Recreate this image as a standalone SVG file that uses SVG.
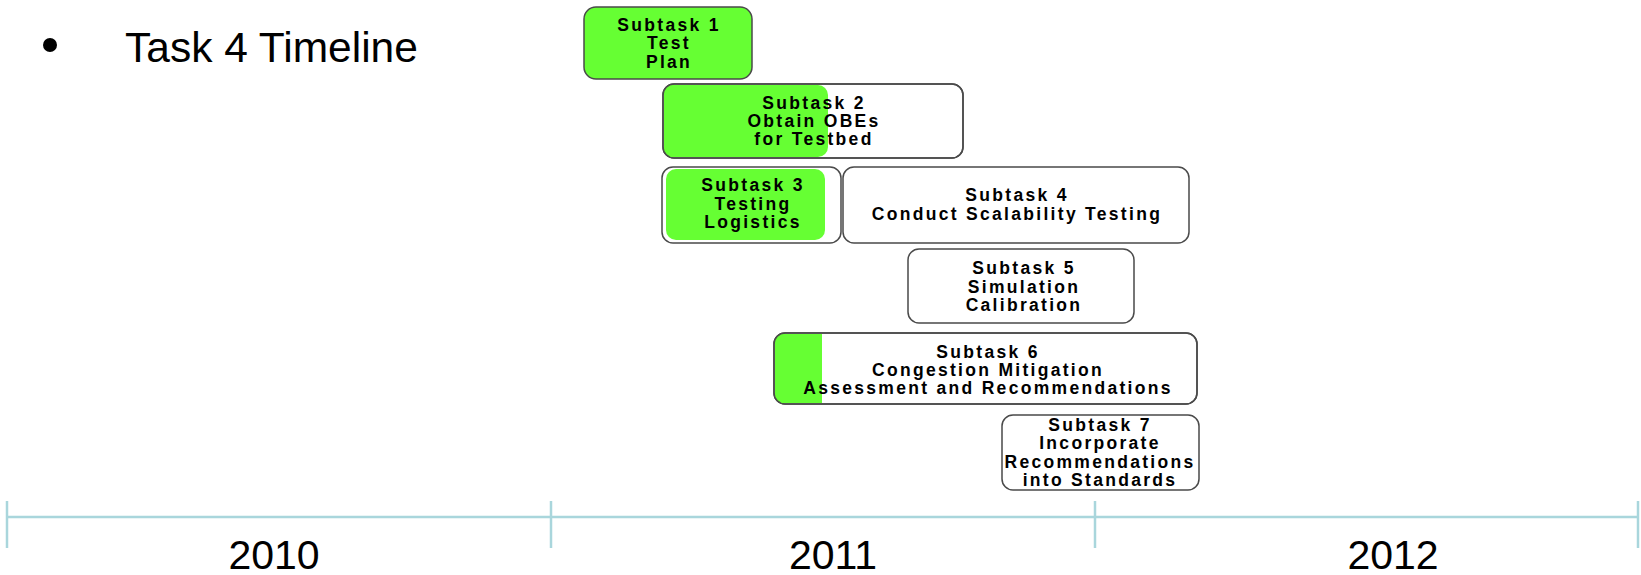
<svg xmlns="http://www.w3.org/2000/svg" width="1641" height="575" viewBox="0 0 1641 575">
<style>
.box{fill:#ffffff;stroke:#4a4a4a;stroke-width:1.5}
.green{fill:#66ff33}
.lbl{font-family:"Liberation Sans",Arial,sans-serif;font-weight:bold;font-size:17.5px;letter-spacing:2.3px;fill:#000;text-anchor:middle}
.axis{stroke:#a9d6dc;stroke-width:2.5;fill:none}
.year{font-family:"Liberation Sans",Arial,sans-serif;font-size:41px;fill:#000;text-anchor:middle}
</style>
<defs>
<clipPath id="c2"><rect x="663" y="84" width="300" height="74" rx="11"/></clipPath>
<clipPath id="c6"><rect x="774" y="333" width="423" height="71" rx="11"/></clipPath>
</defs>
<rect width="1641" height="575" fill="#ffffff"/>
<g id="title">
<circle cx="50" cy="45" r="7" fill="#000"/>
<text x="125" y="62" font-family="'Liberation Sans',Arial,sans-serif" font-size="42.5" fill="#000">Task 4 Timeline</text>
</g>
<g id="timeline">
<line class="axis" x1="7" y1="517" x2="1638" y2="517"/>
<line class="axis" x1="7" y1="501" x2="7" y2="548"/>
<line class="axis" x1="551" y1="501" x2="551" y2="548"/>
<line class="axis" x1="1095" y1="501" x2="1095" y2="548"/>
<line class="axis" x1="1638" y1="501" x2="1638" y2="548"/>
<text class="year" x="274" y="569">2010</text>
<text class="year" x="833" y="569">2011</text>
<text class="year" x="1393" y="569">2012</text>
</g>
<g id="connectors"></g>
<g id="subtask1">
<rect x="584" y="7" width="168" height="72" rx="12" fill="#66ff33" stroke="#4a4a4a" stroke-width="1.5"/>
<text class="lbl" x="669" y="30.5">Subtask 1</text>
<text class="lbl" x="669" y="49">Test</text>
<text class="lbl" x="669" y="67.5">Plan</text>
</g>
<g id="subtask2">
<rect class="box" x="663" y="84" width="300" height="74" rx="11"/>
<rect class="green" x="664" y="85" width="164" height="72" rx="10" clip-path="url(#c2)"/>
<rect class="green" x="664" y="85" width="120" height="72" clip-path="url(#c2)"/>
<rect x="663" y="84" width="300" height="74" rx="11" fill="none" stroke="#4a4a4a" stroke-width="1.5"/>
<text class="lbl" x="814" y="108.5">Subtask 2</text>
<text class="lbl" x="814" y="126.5">Obtain OBEs</text>
<text class="lbl" x="814" y="144.5">for Testbed</text>
</g>
<g id="subtask3">
<rect class="box" x="662" y="167" width="179" height="76" rx="11"/>
<rect class="green" x="666" y="169" width="159" height="71" rx="10"/>
<text class="lbl" x="753" y="191">Subtask 3</text>
<text class="lbl" x="753" y="209.5">Testing</text>
<text class="lbl" x="753" y="228">Logistics</text>
</g>
<g id="subtask4">
<rect class="box" x="843" y="167" width="346" height="76" rx="11"/>
<text class="lbl" x="1017" y="201">Subtask 4</text>
<text class="lbl" x="1017" y="220">Conduct Scalability Testing</text>
</g>
<g id="subtask5">
<rect class="box" x="908" y="249" width="226" height="74" rx="11"/>
<text class="lbl" x="1024" y="274">Subtask 5</text>
<text class="lbl" x="1024" y="292.5">Simulation</text>
<text class="lbl" x="1024" y="310.5">Calibration</text>
</g>
<g id="subtask6">
<rect class="box" x="774" y="333" width="423" height="71" rx="11"/>
<rect class="green" x="775" y="334" width="47" height="69" clip-path="url(#c6)"/>
<rect x="774" y="333" width="423" height="71" rx="11" fill="none" stroke="#4a4a4a" stroke-width="1.5"/>
<text class="lbl" x="988" y="357.5">Subtask 6</text>
<text class="lbl" x="988" y="375.5">Congestion Mitigation</text>
<text class="lbl" x="988" y="393.5">Assessment and Recommendations</text>
</g>
<g id="subtask7">
<rect class="box" x="1002" y="415" width="197" height="75" rx="11"/>
<text class="lbl" x="1100" y="430.5">Subtask 7</text>
<text class="lbl" x="1100" y="449">Incorporate</text>
<text class="lbl" x="1100" y="467.5">Recommendations</text>
<text class="lbl" x="1100" y="486">into Standards</text>
</g>
</svg>
